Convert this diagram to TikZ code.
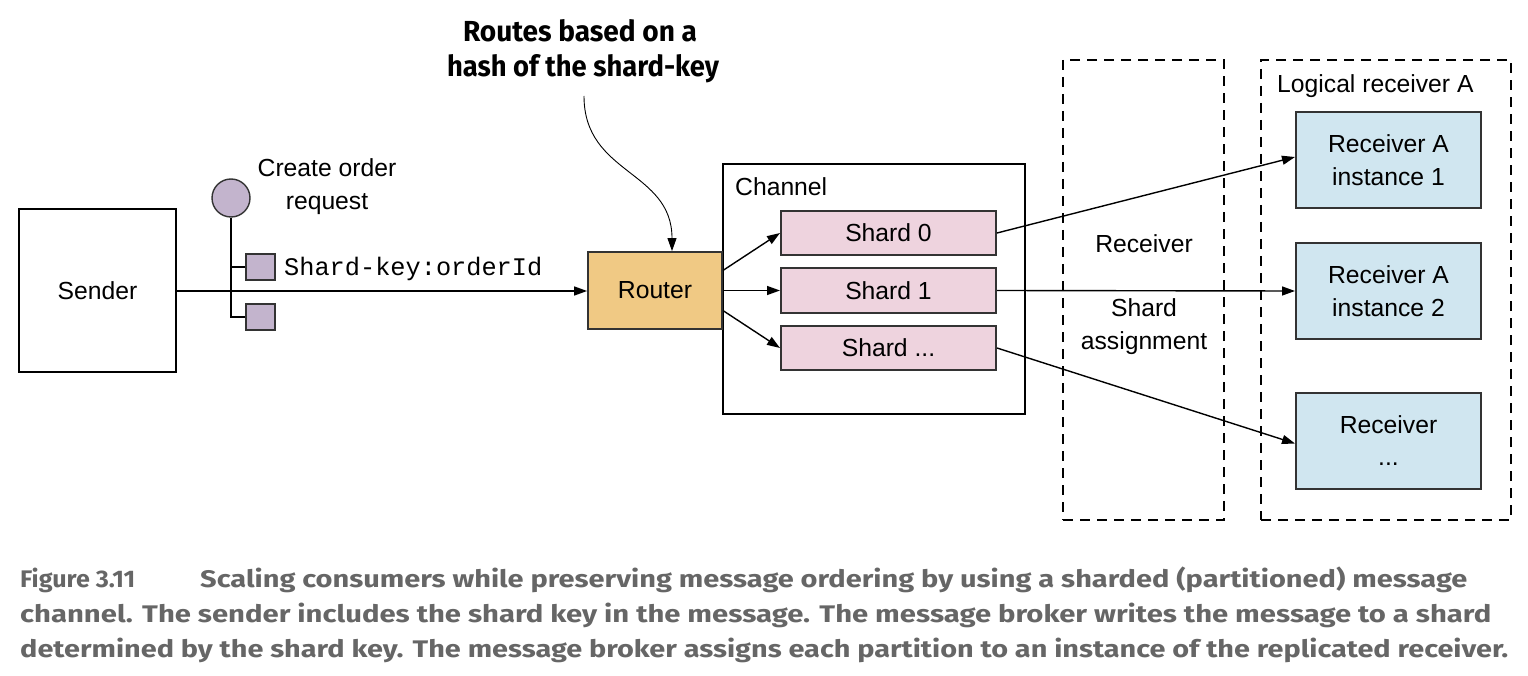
\documentclass[tikz,border=0pt]{standalone}
\usepackage{fontspec}
\setmainfont{Liberation Sans}
\setmonofont{Liberation Mono}
\newfontfamily\calloutfont{Fira Sans}
\usetikzlibrary{arrows.meta,calc}
\definecolor{routerfill}{HTML}{F0C984}
\definecolor{shardfill}{HTML}{EED3DE}
\definecolor{recvfill}{HTML}{D0E6F0}
\definecolor{msgfill}{HTML}{C3B4CD}
\definecolor{capgray}{HTML}{666666}
\definecolor{edgegray}{HTML}{333333}
\begin{document}
\begin{tikzpicture}[x=1pt,y=-1pt,
  txt/.style={font=\fontsize{24.7pt}{32.5pt}\selectfont, inner sep=0pt},
  plainbox/.style={draw=black, line width=1.5pt, fill=white, inner sep=0pt},
  routerbox/.style={draw=edgegray, line width=1.8pt, fill=routerfill, inner sep=0pt, minimum width=134pt, minimum height=77pt, txt},
  shardbox/.style={draw=edgegray, line width=2pt, fill=shardfill, inner sep=0pt, minimum width=215pt, minimum height=44pt, txt},
  recvbox/.style={draw=edgegray, line width=2pt, fill=recvfill, inner sep=0pt, minimum width=185pt, minimum height=96pt, txt, align=center},
  dashbox/.style={draw=black, line width=1.4pt, dash pattern=on 10pt off 7pt, inner sep=0pt},
  msgsq/.style={draw=edgegray, line width=1.4pt, fill=msgfill, inner sep=0pt, minimum width=29pt, minimum height=26pt},
  conn/.style={line width=1.4pt, -{Triangle[length=13pt,width=9pt]}},
  thin/.style={line width=1.3pt},
  captxt/.style={font=\calloutfont\bfseries\fontsize{24pt}{28pt}\selectfont, text=capgray, inner sep=0pt, anchor=base west},
  callouttxt/.style={font=\calloutfont\bfseries\fontsize{29pt}{33pt}\selectfont, inner sep=0pt, anchor=base}
]
\useasboundingbox (0,0) rectangle (1528,676);

% dashed groups
\node[dashbox, minimum width=161pt, minimum height=460pt] (assign) at (1143.5,290) {};
\node[dashbox, minimum width=250pt, minimum height=460pt] (logical) at (1386,290) {};
\node[txt, anchor=west] (logicallbl) at (1277,86) {Logical receiver A};
\node[txt] (recvlbl) at (1144,244) {Receiver};
\node[txt, align=center] (assignlbl) at (1144,326.5) {Shard\\assignment};

% sender
\node[plainbox, minimum width=157pt, minimum height=163pt, txt] (sender) at (97.5,290.5) {Sender};

% message icon
\node[draw=edgegray, line width=1.4pt, fill=msgfill, circle, minimum size=38pt, inner sep=0pt] (msg) at (231,198) {};
\node[msgsq] (sq1) at (260.5,267) {};
\node[msgsq] (sq2) at (260.5,317) {};
\coordinate (b1) at (231,267);
\coordinate (b2) at (231,317);
\draw[thin] (msg.south) -- (b2) -- (sq2.west);
\draw[thin] (b1) -- (sq1.west);
\node[txt, align=center] (msglbl) at (327,186.5) {Create order\\request};
\node[font=\ttfamily\fontsize{25.3pt}{30pt}\selectfont, inner sep=0pt, anchor=west] (keylbl) at (284,269) {Shard-key:orderId};

% router and channel
\node[plainbox, minimum width=302pt, minimum height=250pt] (channel) at (874,289) {};
\node[txt, anchor=west] (chanlbl) at (735,187) {Channel};
\node[routerbox] (router) at (655,290.5) {Router};
\node[shardbox] (s0) at (888.5,233) {Shard 0};
\node[shardbox] (s1) at (888.5,290.5) {Shard 1};
\node[shardbox] (s2) at (888.5,348) {Shard ...};

% receivers
\node[recvbox] (r1) at (1388.5,160) {Receiver A\\instance 1};
\node[recvbox] (r2) at (1388.5,291) {Receiver A\\instance 2};
\node[recvbox] (r3) at (1388.5,440.5) {Receiver\\...};

% connectors
\draw[conn] (sender.east |- 0,291) -- (router.west |- 0,291);
\draw[conn] ([yshift=20pt]router.east) -- (s0.west);
\draw[conn] (router.east) -- (s1.west);
\draw[conn] ([yshift=-20pt]router.east) -- (s2.west);
\draw[conn] (s0.east) -- ([yshift=3pt]r1.west);
\draw[conn] (s1.east) -- (r2.west);
\draw[conn] (s2.east) -- ([yshift=-3pt]r3.west);

% callout
\node[callouttxt] (co1) at (580,42) {\resizebox{234pt}{\height}{Routes based on a}};
\node[callouttxt] (co2) at (583,77) {\resizebox{272pt}{\height}{hash of the shard-key}};
\coordinate (cstart) at (584,96);
\draw[line width=0.9pt, -{Triangle[length=13pt,width=9pt]}] (cstart) .. controls (584,175) and (672,170) .. ([xshift=17pt]router.north);

% caption
\node[captxt] (cap0) at (20,587) {\resizebox{115pt}{\height}{Figure 3.11}};
\node[captxt] (cap1) at (200,587) {\resizebox{1267pt}{\height}{Scaling consumers while preserving message ordering by using a sharded (partitioned) message}};
\node[captxt] (cap2) at (20,622) {\resizebox{1471pt}{\height}{channel. The sender includes the shard key in the message. The message broker writes the message to a shard}};
\node[captxt] (cap3) at (20,657) {\resizebox{1488pt}{\height}{determined by the shard key. The message broker assigns each partition to an instance of the replicated receiver.}};
\end{tikzpicture}
\end{document}
